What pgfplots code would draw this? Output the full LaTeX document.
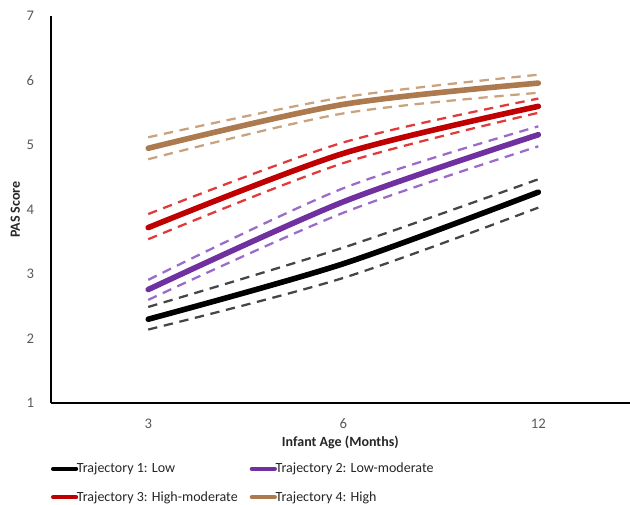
\documentclass[border=0pt]{standalone}
\usepackage{pgfplots}
\pgfplotsset{compat=1.18}
\usepackage{fontspec}
\setmainfont{Carlito}
\usetikzlibrary{calc}
\definecolor{tickgray}{HTML}{595959}
\definecolor{labgray}{HTML}{262626}
\definecolor{cBlack}{HTML}{000000}
\definecolor{cBlackD}{HTML}{454545}
\definecolor{cPurple}{HTML}{7030A0}
\definecolor{cPurpleD}{HTML}{9B6BCB}
\definecolor{cRed}{HTML}{C00000}
\definecolor{cRedD}{HTML}{E03A3A}
\definecolor{cBrown}{HTML}{AC7A4E}
\definecolor{cBrownD}{HTML}{C9A27E}
\begin{document}
\begin{tikzpicture}
\begin{axis}[
  name=ax,
  scale only axis,
  width=434pt, height=290pt,
  xmin=-0.5, xmax=2.47,
  ymin=1, ymax=7,
  axis lines*=left,
  axis line style={line width=1.2pt, black},
  xtick={0,1,2}, xticklabels={3,6,12},
  ytick={1,2,3,4,5,6,7},
  major tick length=0pt,
  /pgf/number format/assume math mode=true,
  tick label style={font=\fontsize{11}{13}\selectfont, text=tickgray},
  yticklabel style={xshift=-9pt},
  xticklabel style={yshift=-8pt},
  xlabel={\bfseries Infant Age (Months)},
  ylabel={\bfseries PAS Score},
  label style={font=\fontsize{10.5}{12}\selectfont, text=labgray},
  xlabel style={yshift=1pt},
  ylabel style={yshift=-2pt},
  legend columns=2,
  legend cell align=left,
  legend style={draw=none, font=\fontsize{10.5}{12}\selectfont, text=labgray,
    at={(axis description cs:0,-0.147)}, anchor=north west,
    /tikz/every even column/.append style={column sep=7pt},
    /tikz/every odd column/.append style={column sep=-3pt},
    row sep=8.5pt, inner sep=0pt},
  legend image code/.code={\draw[line width=3.4pt, line cap=round] (0pt,0pt) -- (17pt,0pt);},
  every axis plot/.append style={smooth, tension=0.5},
  dash/.style={line width=1.7pt, dash pattern=on 7pt off 5pt, forget plot},
  main/.style={line width=4.2pt, line cap=round},
]
% Trajectory 1 CI
\addplot[dash, cBlackD] coordinates {(0,2.49) (1,3.41) (2,4.47)};
\addplot[dash, cBlackD] coordinates {(0,2.14) (1,2.94) (2,4.03)};
% Trajectory 2 CI
\addplot[dash, cPurpleD] coordinates {(0,2.91) (1,4.33) (2,5.29)};
\addplot[dash, cPurpleD] coordinates {(0,2.60) (1,3.95) (2,4.98)};
% Trajectory 3 CI
\addplot[dash, cRedD] coordinates {(0,3.93) (1,5.04) (2,5.72)};
\addplot[dash, cRedD] coordinates {(0,3.54) (1,4.72) (2,5.50)};
% Trajectory 4 CI
\addplot[dash, cBrownD] coordinates {(0,5.12) (1,5.74) (2,6.09)};
\addplot[dash, cBrownD] coordinates {(0,4.78) (1,5.49) (2,5.81)};
% main lines
\addplot[main, cBlack] coordinates {(0,2.30) (1,3.16) (2,4.27)};
\addlegendentry{Trajectory 1: Low}
\addplot[main, cPurple] coordinates {(0,2.76) (1,4.12) (2,5.16)};
\addlegendentry{Trajectory 2: Low-moderate}
\addplot[main, cRed] coordinates {(0,3.72) (1,4.87) (2,5.60)};
\addlegendentry{Trajectory 3: High-moderate}
\addplot[main, cBrown] coordinates {(0,4.95) (1,5.63) (2,5.96)};
\addlegendentry{Trajectory 4: High}
\end{axis}
\pgfresetboundingbox
\path[use as bounding box] ($(ax.south west)+(-38pt,-75.75pt)$) rectangle ($(ax.north east)+(0pt,12pt)$);
\end{tikzpicture}
\end{document}
